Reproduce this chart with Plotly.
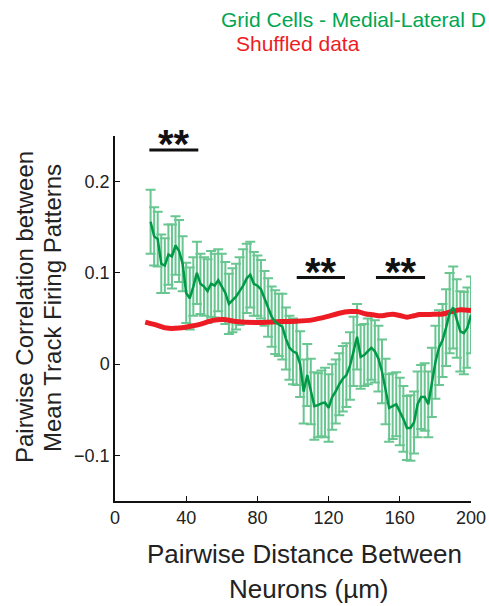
import plotly.graph_objects as go

# ---- data ----
grid_x = list(range(20, 201, 2))
grid_mean = [0.156, 0.140, 0.137, 0.110, 0.108, 0.120, 0.118, 0.130, 0.124, 0.110,
             0.078, 0.072, 0.085, 0.100, 0.088, 0.085, 0.080, 0.088, 0.086, 0.092,
             0.085, 0.078, 0.066, 0.070, 0.074, 0.080, 0.086, 0.094, 0.098, 0.088,
             0.086, 0.082, 0.072, 0.062, 0.052, 0.046, 0.043, 0.041, 0.028, 0.018,
             0.014, 0.012, 0.000, -0.030, -0.012, -0.030, -0.046, -0.045, -0.043, -0.042,
             -0.048, -0.036, -0.030, -0.022, -0.016, -0.012, -0.002, 0.014, 0.030, 0.008,
             0.010, 0.014, 0.018, 0.014, 0.006, -0.008, -0.030, -0.048, -0.046, -0.044,
             -0.052, -0.060, -0.070, -0.070, -0.064, -0.044, -0.036, -0.036, -0.044, -0.020,
             0.002, 0.018, 0.026, 0.040, 0.056, 0.062, 0.050, 0.036, 0.034, 0.040,
             0.054]
grid_err = [0.035, 0.032, 0.030, 0.032, 0.030, 0.033, 0.035, 0.032, 0.034, 0.030,
            0.033, 0.034, 0.032, 0.034, 0.033, 0.032, 0.035, 0.036, 0.035, 0.034,
            0.036, 0.034, 0.033, 0.035, 0.036, 0.037, 0.040, 0.038, 0.036, 0.035,
            0.033, 0.032, 0.030, 0.032, 0.033, 0.035, 0.034, 0.036, 0.034, 0.035,
            0.036, 0.035, 0.036, 0.035, 0.034, 0.036, 0.037, 0.035, 0.036, 0.038,
            0.037, 0.036, 0.035, 0.034, 0.036, 0.035, 0.037, 0.038, 0.036, 0.035,
            0.034, 0.036, 0.035, 0.034, 0.036, 0.035, 0.036, 0.037, 0.036, 0.035,
            0.037, 0.036, 0.035, 0.036, 0.034, 0.036, 0.035, 0.037, 0.036, 0.038,
            0.040, 0.041, 0.040, 0.042, 0.044, 0.045, 0.043, 0.044, 0.045, 0.044,
            0.042]

shuf_x = [17, 23, 29, 36, 44, 50, 55, 61, 68, 80, 93, 102, 111, 119, 126, 132,
          136, 141, 145, 149, 153, 156, 160, 164, 168, 171, 177, 183, 186, 190, 194, 200]
shuf_y = [0.046, 0.043, 0.0395, 0.0395, 0.042, 0.045, 0.048, 0.049, 0.0467, 0.0456,
          0.0467, 0.047, 0.0485, 0.052, 0.0558, 0.0576, 0.0576, 0.055, 0.054, 0.0529,
          0.054, 0.0547, 0.0533, 0.0515, 0.053, 0.0543, 0.0545, 0.0547, 0.0558, 0.058,
          0.0595, 0.0587]

# significance bars
sig_x0 = [19.3, 102.1, 146.6]
sig_x1 = [46.8, 129.2, 174.2]
sig_y = [0.2347, 0.0949, 0.0949]
sig_text = ["**", "**", "**"]

x_ticks = [0, 40, 80, 120, 160, 200]
y_ticks = [-0.1, 0, 0.1, 0.2]
y_ticktext = ["\u22120.1", "0", "0.1", "0.2"]

GREEN = "#00a651"
GREEN_DARK = "#009a47"
ERR_GREEN = "rgb(105,198,145)"
RED = "#ed1c24"
FONT = "Liberation Sans, Arial, sans-serif"

fig = go.Figure()
fig.add_trace(go.Scatter(
    x=grid_x, y=grid_mean, mode="markers",
    marker=dict(size=1, color="rgba(0,0,0,0)"),
    error_y=dict(type="data", array=grid_err, visible=True,
                 color=ERR_GREEN, thickness=2, width=5),
    showlegend=False, hoverinfo="skip"))
fig.add_trace(go.Scatter(
    x=shuf_x, y=shuf_y, mode="lines",
    line=dict(color=RED, width=5, shape="spline", smoothing=0.8),
    showlegend=False))
fig.add_trace(go.Scatter(
    x=grid_x, y=grid_mean, mode="lines",
    line=dict(color=GREEN_DARK, width=2.5),
    showlegend=False))

W, H = 489, 606
L, R, T, B = 115, 18, 136, 105
pw, ph = W - L - R, H - T - B


def px(xp):
    return (xp - L) / pw


def py(yp):
    return (H - B - yp) / ph


shapes = []
annotations = []
for x0, x1, y, t in zip(sig_x0, sig_x1, sig_y, sig_text):
    shapes.append(dict(type="line", xref="x", yref="y", x0=x0, x1=x1, y0=y, y1=y,
                       line=dict(color="#111", width=3)))
    annotations.append(dict(x=(x0 + x1) / 2, y=y, xref="x", yref="y", text="<b>" + t + "</b>",
                            showarrow=False, yanchor="middle", yshift=6,
                            font=dict(family=FONT, size=40, color="#111")))

# legend texts
annotations.append(dict(x=px(219), y=py(19), xref="paper", yref="paper",
                        text="Grid Cells - Medial-Lateral D", showarrow=False,
                        xanchor="left", yanchor="middle",
                        font=dict(family=FONT, size=21, color=GREEN)))
annotations.append(dict(x=px(234), y=py(44), xref="paper", yref="paper",
                        text="Shuffled data", showarrow=False,
                        xanchor="left", yanchor="middle",
                        font=dict(family=FONT, size=21, color=RED)))

# axis titles
annotations.append(dict(x=px(24), y=py(307), xref="paper", yref="paper",
                        text="Pairwise Correlation between", showarrow=False,
                        textangle=-90, xanchor="center", yanchor="middle",
                        font=dict(family=FONT, size=24, color="#222")))
annotations.append(dict(x=px(52), y=py(308), xref="paper", yref="paper",
                        text="Mean Track Firing Patterns", showarrow=False,
                        textangle=-90, xanchor="center", yanchor="middle",
                        font=dict(family=FONT, size=24, color="#222")))
annotations.append(dict(x=px(304), y=py(554), xref="paper", yref="paper",
                        text="Pairwise Distance Between", showarrow=False,
                        xanchor="center", yanchor="middle",
                        font=dict(family=FONT, size=26, color="#222")))
annotations.append(dict(x=px(308), y=py(589), xref="paper", yref="paper",
                        text="Neurons (\u00b5m)", showarrow=False,
                        xanchor="center", yanchor="middle",
                        font=dict(family=FONT, size=26, color="#222")))

fig.update_layout(
    width=W, height=H,
    margin=dict(l=L, r=R, t=T, b=B, pad=0, autoexpand=False),
    paper_bgcolor="white", plot_bgcolor="white",
    shapes=shapes, annotations=annotations,
    font=dict(family=FONT, size=18, color="#222"),
    xaxis=dict(range=[0, 200], tickvals=x_ticks, ticks="inside", ticklen=5,
               tickcolor="#111", tickwidth=1.2, showline=True, linecolor="#111",
               linewidth=1.5, showgrid=False, zeroline=False, automargin=False,
               tickfont=dict(family=FONT, size=18, color="#222")),
    yaxis=dict(range=[-0.15, 0.25], tickvals=y_ticks, ticktext=y_ticktext,
               ticks="inside", ticklen=5, tickcolor="#111", tickwidth=1.2,
               showline=True, linecolor="#111", linewidth=1.5, showgrid=False,
               zeroline=False, automargin=False,
               tickfont=dict(family=FONT, size=18, color="#222")),
)

fig.write_html("out.html")
